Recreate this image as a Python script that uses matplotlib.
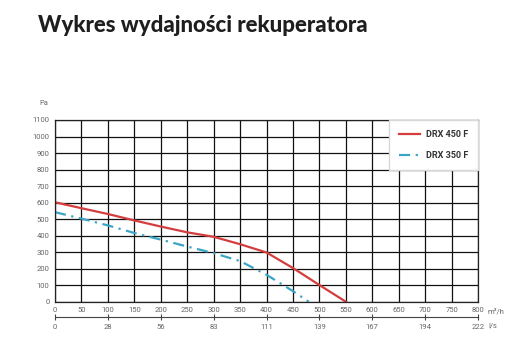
import matplotlib
matplotlib.use("Agg")
import matplotlib.pyplot as plt
from matplotlib import font_manager

# --- data --------------------------------------------------------------
flow_450 = [0, 50, 100, 150, 200, 250, 300, 350, 400, 450, 500, 550]
pa_450 = [602, 566, 531, 492, 455, 420, 393, 348, 298, 204, 101, 0]

flow_350 = [0, 50, 100, 150, 200, 250, 300, 350, 400, 450, 480]
pa_350 = [542, 503, 462, 416, 376, 334, 294, 246, 163, 64, 0]

m3h_ticks = [0, 50, 100, 150, 200, 250, 300, 350, 400, 450, 500, 550, 600, 650, 700, 750, 800]
pa_ticks = [0, 100, 200, 300, 400, 500, 600, 700, 800, 900, 1000, 1100]
ls_pos = [0, 100, 200, 300, 400, 500, 600, 700, 800]
ls_labels = ["0", "28", "56", "83", "111", "139", "167", "194", "222"]

TITLE = "Wykres wydajności rekuperatora"
RED = "#d43d3d"
BLUE = "#3aa5c6"
GREY = "#666666"

names = {f.name for f in font_manager.fontManager.ttflist}
NARROW = ["Liberation Sans Narrow", "DejaVu Sans"] if "Liberation Sans Narrow" in names \
    else ["Roboto", "DejaVu Sans"]

W, H = 512, 347
fig = plt.figure(figsize=(W / 100, H / 100), dpi=100)

fig.text(38 / W, 1 - 25 / H, TITLE, fontsize=16, fontweight="black",
         family=["Lato", "DejaVu Sans"], color="#1e1e1e", va="center", ha="left")

# axes placed in pixel coords of the reference
x0, x1, ytop, ybot = 55, 478, 120, 301.7
ax = fig.add_axes([x0 / W, 1 - ybot / H, (x1 - x0) / W, (ybot - ytop) / H])
ax.set_xlim(0, 800)
ax.set_ylim(0, 1100)
ax.set_xticks(m3h_ticks)
ax.set_yticks(pa_ticks)
ax.grid(True, color="#111111", linewidth=0.9)
ax.set_axisbelow(True)
for s in ax.spines.values():
    s.set_color("#222222")
    s.set_linewidth(0.9)
ax.tick_params(length=0, labelsize=5.5, labelcolor=GREY, pad=4)
for lab in ax.get_xticklabels() + ax.get_yticklabels():
    lab.set_family(NARROW)

ax.plot(flow_450, pa_450, color=RED, linewidth=1.6, label="DRX 450 F")
ax.plot(flow_350, pa_350, color=BLUE, linewidth=1.6,
        linestyle=(0, (5, 2.5, 1, 2.5)), label="DRX 350 F")

leg = ax.legend(loc="upper right", frameon=True, fancybox=False,
                prop={"family": NARROW, "size": 6.5, "weight": "bold"},
                edgecolor="#d8d8d8", framealpha=1, borderpad=1.1,
                labelspacing=1.3, handlelength=2.3, handletextpad=0.7,
                borderaxespad=0)
for t in leg.get_texts():
    t.set_color("#333333")

# second flow scale in l/s
sec = ax.secondary_xaxis(-0.083)
sec.set_xticks(ls_pos)
sec.set_xticklabels(ls_labels, family=NARROW)
sec.spines["bottom"].set_color("#444444")
sec.spines["bottom"].set_linewidth(0.8)
sec.tick_params(direction="inout", length=4, width=0.8, color="#444444",
                labelsize=5.5, labelcolor=GREY, pad=3)

fig.text(44 / W, 1 - 103 / H, "Pa", fontsize=5.5, family=NARROW, color=GREY,
         ha="center", va="center")
fig.text(488 / W, 1 - 311 / H, "m³/h", fontsize=5.5, family=NARROW, color=GREY,
         ha="left", va="center")
fig.text(488 / W, 1 - 326 / H, "l/s", fontsize=5.5, family=NARROW, color=GREY,
         ha="left", va="center")

fig.savefig("out.png", dpi=100)
